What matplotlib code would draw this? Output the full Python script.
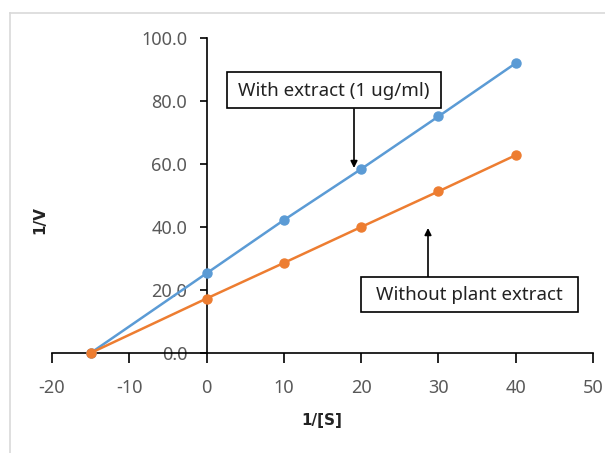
import matplotlib
matplotlib.use("Agg")
import matplotlib.pyplot as plt
from matplotlib.lines import Line2D
from matplotlib.patches import Rectangle

BLUE = "#5B9BD5"; ORANGE = "#ED7D31"; GREY = "#595959"; INK = "#222222"
plt.rcParams['font.family'] = ['Noto Sans', 'DejaVu Sans']
plt.rcParams['axes.unicode_minus'] = False

inv_s = [-15, 0, 10, 20, 30, 40]
with_extract = [0.0, 25.3, 42.2, 58.4, 75.1, 92.0]
without_extract = [0.0, 17.3, 28.6, 40.0, 51.3, 62.8]
xticks = [-20, -10, 0, 10, 20, 30, 40, 50]
yticks = [0, 20, 40, 60, 80, 100]

W, H = 605, 453
px = lambda x, y: (x / W, 1 - y / H)   # pixel -> figure fraction

fig = plt.figure(figsize=(W / 100, H / 100), dpi=100)
ax = fig.add_axes([52 / W, (H - 353) / H, (593 - 52) / W, 315 / H])

ax.plot(inv_s, with_extract, "-o", color=BLUE, lw=1.8, ms=6.5, clip_on=False, zorder=4)
ax.plot(inv_s, without_extract, "-o", color=ORANGE, lw=1.8, ms=6.5, clip_on=False, zorder=4)

ax.set_xlim(-20, 50); ax.set_ylim(0, 100)
ax.spines['left'].set_position(('data', 0))
ax.spines['bottom'].set_position(('data', 0))
for sp in ("top", "right"): ax.spines[sp].set_visible(False)
for sp in ("left", "bottom"): ax.spines[sp].set_linewidth(1.2)
ax.set_xticks(xticks); ax.set_yticks(yticks)
ax.set_yticklabels([f"{v:.1f}" for v in yticks])
ax.tick_params(axis="both", direction="out", width=1.2, labelsize=13, labelcolor=GREY)
ax.tick_params(axis="x", length=7, pad=12)
ax.tick_params(axis="y", length=5, pad=9)

fig.text(*px(40, 220), "1/V", rotation=90, ha="center", va="center",
         fontsize=11, fontweight="bold", color=INK, family="DejaVu Sans")
fig.text(*px(322, 420), "1/[S]", ha="center", va="center",
         fontsize=11, fontweight="bold", color=INK, family="DejaVu Sans")

# annotation boxes with arrows
for (x0, y0, x1, y1), label in [((227, 72, 441, 108), "With extract (1 ug/ml)"),
                                ((361, 277, 578, 312), "Without plant extract")]:
    fig.add_artist(Rectangle(px(x0, y1), (x1 - x0) / W, (y1 - y0) / H,
                             transform=fig.transFigure, fc="white", ec="black", lw=1.2, zorder=5))
    fig.text(*px((x0 + x1) / 2, (y0 + y1) / 2 + 1), label, ha="center", va="center",
             fontsize=13.5, color=INK, zorder=6)

ax.annotate("", xy=px(354, 168), xytext=px(354, 109),
            xycoords="figure fraction", textcoords="figure fraction",
            arrowprops=dict(arrowstyle="-|>", color="black", lw=1.2, shrinkA=0, shrinkB=0))
ax.annotate("", xy=px(428, 228), xytext=px(428, 277),
            xycoords="figure fraction", textcoords="figure fraction",
            arrowprops=dict(arrowstyle="-|>", color="black", lw=1.2, shrinkA=0, shrinkB=0))

# light chart-area frame
fig.add_artist(Line2D([10 / W, 1], [1 - 13 / H] * 2, color="#D9D9D9", lw=1.2))
fig.add_artist(Line2D([10 / W] * 2, [0, 1 - 13 / H], color="#D9D9D9", lw=1.2))

fig.savefig("out.png", dpi=100)
